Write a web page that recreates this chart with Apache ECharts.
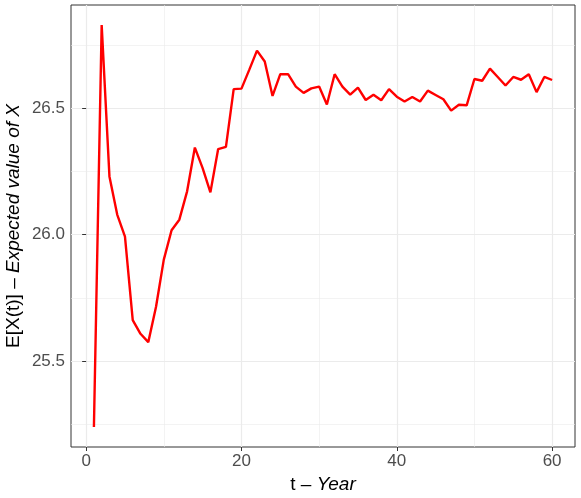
<!DOCTYPE html>
<html><head><meta charset="utf-8">
<script src="https://cdn.jsdelivr.net/npm/echarts@6/dist/echarts.min.js"></script>
<style>html,body{margin:0;padding:0;background:#fff}#c{width:581px;height:498px}</style>
</head><body><div id="c"></div>
<script>
const years = [];
for (let i = 1; i <= 60; i++) years.push(i);
const expectedX = [25.240, 26.828, 26.230, 26.079, 25.992, 25.662, 25.608, 25.575, 25.715, 25.901,
  26.017, 26.059, 26.171, 26.344, 26.263, 26.167, 26.338, 26.347, 26.575, 26.577,
  26.651, 26.727, 26.684, 26.548, 26.634, 26.634, 26.585, 26.560, 26.578, 26.585,
  26.514, 26.634, 26.585, 26.553, 26.581, 26.532, 26.553, 26.531, 26.575, 26.545,
  26.526, 26.544, 26.526, 26.569, 26.552, 26.535, 26.490, 26.513, 26.511, 26.615,
  26.608, 26.656, 26.623, 26.589, 26.623, 26.612, 26.634, 26.563, 26.623, 26.611];
const xMajor = [0, 20, 40, 60];
const xMinor = [10, 30, 50];
const yMajor = [25.5, 26.0, 26.5];
const yMinor = [25.25, 25.75, 26.25, 26.75];

const xMin = -1.95, xMax = 62.95;
const yLo = Math.min(...expectedX), yHi = Math.max(...expectedX);
const yPad = (yHi - yLo) * 0.05;
const yMin = yLo - yPad, yMax = yHi + yPad;
const font = 'Liberation Sans, Arial, sans-serif';
const gridCol = '#ebebeb';

const chart = echarts.init(document.getElementById('c'), null, {renderer: 'canvas'});
chart.setOption({
  animation: false,
  grid: {left: 71, right: 6, top: 5, bottom: 51, containLabel: false, outerBoundsMode: 'none',
    show: true, borderColor: '#333', borderWidth: 1, backgroundColor: 'transparent'},
  xAxis: [{
    type: 'value', min: xMin, max: xMax, position: 'bottom',
    axisLine: {show: false},
    axisTick: {show: true, customValues: xMajor, length: 4, lineStyle: {color: '#333', width: 1}},
    axisLabel: {customValues: xMajor, color: '#4d4d4d', fontSize: 17, fontFamily: font, margin: 6},
    splitLine: {show: true, lineStyle: {color: gridCol, width: 1.2}},
    name: '{n|t – }{i|Year}', nameLocation: 'middle', nameGap: 24,
    nameTextStyle: {rich: {n: {fontSize: 19, fontFamily: font, color: '#000'}, i: {fontSize: 19, fontFamily: font, fontStyle: 'italic', color: '#000'}}}
  }, {
    type: 'value', min: xMin, max: xMax, position: 'bottom',
    axisLine: {show: false}, axisLabel: {show: false},
    axisTick: {show: false, customValues: xMinor},
    splitLine: {show: true, lineStyle: {color: gridCol, width: 0.6}}
  }],
  yAxis: [{
    type: 'value', min: yMin, max: yMax,
    axisLine: {show: false},
    axisTick: {show: true, customValues: yMajor, length: 4, lineStyle: {color: '#333', width: 1}},
    axisLabel: {customValues: yMajor, color: '#4d4d4d', fontSize: 17, fontFamily: font, margin: 6, formatter: v => v.toFixed(1)},
    splitLine: {show: true, lineStyle: {color: gridCol, width: 1.2}},
    name: '{n|E[X(t)] – }{i|Expected value of X}', nameLocation: 'middle', nameGap: 48, nameMoveOverlap: false,
    nameTextStyle: {rich: {n: {fontSize: 19, fontFamily: font, color: '#000'}, i: {fontSize: 19, fontFamily: font, fontStyle: 'italic', color: '#000'}}}
  }, {
    type: 'value', min: yMin, max: yMax,
    axisLine: {show: false}, axisLabel: {show: false},
    axisTick: {show: false, customValues: yMinor},
    splitLine: {show: true, lineStyle: {color: gridCol, width: 0.6}}
  }],
  series: [{
    type: 'line', xAxisIndex: 0, yAxisIndex: 0,
    data: years.map((t, i) => [t, expectedX[i]]),
    showSymbol: false, symbol: 'none',
    lineStyle: {color: '#ff0000', width: 2.4},
    z: 5
  }]
});
</script></body></html>
